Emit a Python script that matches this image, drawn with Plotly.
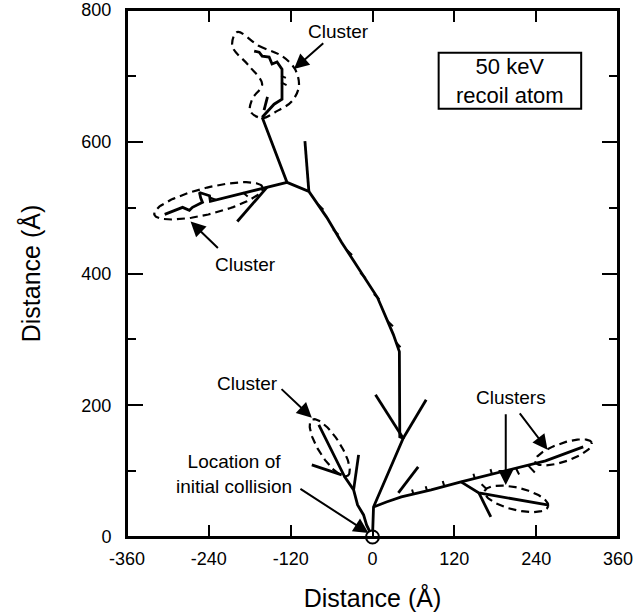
import numpy as np
import plotly.graph_objects as go

# ---------------- data (Angstrom) ----------------
x_tickvals = [-360, -240, -120, 0, 120, 240, 360]
x_ticktext = ["-360", "-240", "-120", "0", "120", "240", "360"]
y_tickvals = [0, 200, 400, 600, 800]

# main trunk: origin -> right junction -> up -> upper-left junctions
trunk_x = [0, 1.5, 45, 40, 39.4, 30.6, 7.3, -27.7, -45.2, -67.1, -93.3, -125.4, -161.8]
trunk_y = [0, 45.6, 150, 152, 281.4, 307.2, 363.5, 418.3, 447.2, 485.2, 524.7, 538.4, 637.3]

# right-going track
right_x = [1.5, 20.4, 42.3, 86, 129.8, 192.5, 227.5, 253.7, 309]
right_y = [45.6, 53.2, 60.8, 71.5, 83.7, 100.4, 109.5, 115.6, 136.9]

# lower-right cluster track
lowr_x = [129.8, 156, 256.6]
lowr_y = [83.7, 67, 48.7]
lowr_b_x = [156, 173.5]
lowr_b_y = [67, 30.4]

# lower-left cluster track from origin
ll_x = [-1.5, -8.7, -13.1, -21.9, -27.7, -40.8, -78.7]
ll_y = [3, 18.3, 33.5, 48.7, 71.5, 91.3, 170.3]
ll_b1_x = [-45.2, -89]
ll_b1_y = [94.3, 109.5]
ll_b2_x = [-27.7, -20.4]
ll_b2_y = [71.5, 124.7]

# branches around the central junction
jb1_x = [45, 4.4]
jb1_y = [150, 216]
jb2_x = [45, 78.7]
jb2_y = [150, 208.4]
jb3_x = [37.9, 67]
jb3_y = [67, 106.5]

# short upward branch at upper junction
up_b_x = [-93.3, -99.1]
up_b_y = [524.7, 600.8]

# left cluster track
left_x = [-125.4, -154.5, -237.7, -239, -253.7, -252, -249.3, -264, -268.5, -278.5, -288, -296.5, -304.7]
left_y = [538.4, 531, 509.5, 518, 523, 515, 508, 500.5, 496, 500.4, 496.5, 494, 489.8]
left_b_x = [-154.5, -198.3]
left_b_y = [531, 479]

# top cluster track
top_x = [-161.8, -144.3, -132.7, -132.7, -140, -147.3, -151.6, -161.8, -166.2, -173.5]
top_y = [637.3, 657, 664.7, 710.3, 721, 718, 728.6, 730, 736, 737.7]
top_b_x = [-159, -154]
top_b_y = [648, 668]

# small side-marks along tracks (x0, y0, x1, y1)
marks = [
    (-80, 505, -72, 497), (-58, 467, -50, 459), (-38, 436, -30, 428),
    (-18, 401, -10, 393), (2, 369, 10, 361), (22, 328, 30, 320),
    (34, 296, 41, 288), (-134, 690, -126, 686), (-134, 700, -127, 697),
    (60, 65, 58, 72), (80, 70, 78, 77), (105, 78, 103, 85), (150, 89, 148, 96),
    (175, 96, 173, 103), (210, 105, 215, 95), (227.5, 109.5, 238, 98),
    (160, 80, 168, 72), (-238, 515, -230, 512), (-190, 523, -183, 517),
]

# ellipses: center x, center y, half-length, half-width, angle (deg)
ellipses = [
    (-240.6, 510.3, 82, 20, 14.6),
    (-62.7, 135.4, 50, 16, -58.6),
    (211, 58, 48, 17, -14),
    (280, 128.5, 44, 14, 19.5),
]

# top cluster dashed outline
top_out_x = [-198.3, -166.2, -132.7, -113.7, -107.9, -118.1, -142.9, -161.8, -179.3,
             -176.4, -161.8, -180.8, -205.6, -198.3]
top_out_y = [766.6, 745.3, 730, 710.3, 684.5, 661.6, 644.9, 635.8, 646.4,
             664.7, 687.5, 714.9, 745.3, 766.6]

# labels: text, x, y
labels = [
    ("Cluster", -49.6, 768),
    ("Cluster", -186.6, 413.7),
    ("Cluster", -183.7, 232.7),
    ("Clusters", 202.6, 211.4),
    ("Location of<br>initial collision", -202.7, 95),
]
# arrows: tail x, tail y, head x, head y
arrows = [
    (-70, 751.4, -115.2, 710.3),
    (-224.5, 436.5, -266.8, 479),
    (-135.6, 226.6, -89, 181),
    (195.4, 188.6, 195.4, 79),
    (214.3, 190, 256.6, 132.3),
    (-107.9, 74.5, -5.8, 6.1),
]

FONT = "Liberation Sans, Arial, sans-serif"

# ---------------- figure ----------------
fig = go.Figure()
LW = 2.8
line_style = dict(color="black", width=LW)

for xs, ys in [(trunk_x, trunk_y), (right_x, right_y), (lowr_x, lowr_y), (lowr_b_x, lowr_b_y),
               (ll_x, ll_y), (ll_b1_x, ll_b1_y), (ll_b2_x, ll_b2_y), (jb1_x, jb1_y),
               (jb2_x, jb2_y), (jb3_x, jb3_y), (up_b_x, up_b_y), (left_x, left_y),
               (left_b_x, left_b_y), (top_x, top_y), (top_b_x, top_b_y)]:
    fig.add_trace(go.Scatter(x=xs, y=ys, mode="lines", line=line_style,
                             hoverinfo="skip", showlegend=False))

mx, my = [], []
for x0, y0, x1, y1 in marks:
    mx += [x0, x1, None]
    my += [y0, y1, None]
fig.add_trace(go.Scatter(x=mx, y=my, mode="lines", line=dict(color="black", width=2),
                         hoverinfo="skip", showlegend=False))

t = np.linspace(0, 2 * np.pi, 120)
dash_style = dict(color="black", width=2.2, dash="8px,5px")
for cx, cy, a, b, ang in ellipses:
    th = np.deg2rad(ang)
    ex = cx + a * np.cos(t) * np.cos(th) - b * np.sin(t) * np.sin(th)
    ey = cy + a * np.cos(t) * np.sin(th) + b * np.sin(t) * np.cos(th)
    fig.add_trace(go.Scatter(x=ex, y=ey, mode="lines", line=dash_style,
                             hoverinfo="skip", showlegend=False))

fig.add_trace(go.Scatter(x=top_out_x, y=top_out_y, mode="lines",
                         line=dict(color="black", width=2.2, dash="8px,5px", shape="spline", smoothing=1),
                         hoverinfo="skip", showlegend=False))

# origin marker
fig.add_trace(go.Scatter(x=[0], y=[0], mode="markers", cliponaxis=False,
                         marker=dict(size=13, color="white", line=dict(color="black", width=2)),
                         hoverinfo="skip", showlegend=False))

font_lbl = dict(family=FONT, size=19, color="black")
for txt, x, y in labels:
    fig.add_annotation(x=x, y=y, text=txt, showarrow=False, font=font_lbl, align="center")
for tx, ty, hx, hy in arrows:
    fig.add_annotation(x=hx, y=hy, ax=tx, ay=ty, axref="x", ayref="y", text="",
                       showarrow=True, arrowhead=2, arrowsize=1.5, arrowwidth=2,
                       arrowcolor="black", standoff=0, startstandoff=0)

# text box
fig.add_shape(type="rect", x0=97, x1=306, y0=650, y1=735,
              line=dict(color="black", width=2), fillcolor="white")
fig.add_annotation(x=201.5, y=692.5, text="50 keV<br>recoil atom", showarrow=False,
                   font=dict(family=FONT, size=22, color="black"), align="center")

# plot frame
fig.add_shape(type="rect", xref="paper", yref="paper", x0=0, x1=1, y0=0, y1=1,
              line=dict(color="black", width=2), fillcolor="rgba(0,0,0,0)", layer="above")

axis_common = dict(showgrid=False, zeroline=False, showline=True, linecolor="black",
                   linewidth=2, mirror="ticks", ticks="inside", tickcolor="black",
                   tickwidth=2, automargin=False, ticklabeloverflow="allow",
                   tickfont=dict(family=FONT, size=18, color="black"))

fig.update_xaxes(range=[-360, 360], tickvals=x_tickvals, ticktext=x_ticktext, ticklen=12,
                 ticklabelstandoff=4,
                 title=dict(text="Distance (Å)", standoff=22,
                            font=dict(family=FONT, size=25, color="black")),
                 **axis_common)
fig.update_yaxes(range=[0, 800], tickvals=y_tickvals, ticklen=16,
                 minor=dict(dtick=100, ticks="inside", ticklen=9, tickwidth=2, tickcolor="black"),
                 ticklabelstandoff=10,
                 title=dict(text="Distance (Å)", standoff=34,
                            font=dict(family=FONT, size=25, color="black")),
                 **axis_common)

fig.update_layout(width=634, height=613, margin=dict(l=127, r=16, t=10, b=76),
                  plot_bgcolor="white", paper_bgcolor="white", showlegend=False)

fig.write_html("out.html")
